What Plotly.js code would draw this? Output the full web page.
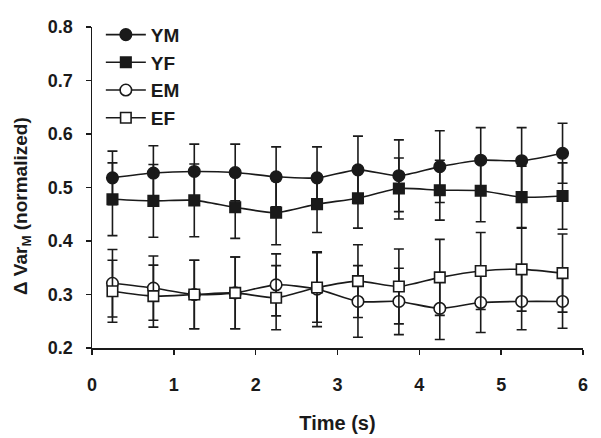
<!DOCTYPE html>
<html>
<head>
<meta charset="utf-8">
<script src="https://cdn.plot.ly/plotly-3.0.1.min.js"></script>
<style>html,body{margin:0;padding:0;background:#fff;}#chart{width:601px;height:438px;}</style>
</head>
<body>
<div id="chart"></div>
<script>
const time = [0.25, 0.75, 1.25, 1.75, 2.25, 2.75, 3.25, 3.75, 4.25, 4.75, 5.25, 5.75];
const YM = [0.518, 0.527, 0.530, 0.528, 0.520, 0.518, 0.533, 0.522, 0.539, 0.551, 0.550, 0.564];
const YM_err = [0.050, 0.051, 0.051, 0.053, 0.056, 0.058, 0.063, 0.067, 0.067, 0.061, 0.062, 0.056];
const YF = [0.478, 0.475, 0.476, 0.463, 0.453, 0.469, 0.480, 0.498, 0.495, 0.494, 0.482, 0.484];
const YF_err = [0.068, 0.068, 0.068, 0.058, 0.060, 0.053, 0.056, 0.057, 0.056, 0.058, 0.058, 0.062];
const EM = [0.321, 0.312, 0.300, 0.303, 0.318, 0.310, 0.287, 0.287, 0.274, 0.285, 0.287, 0.287];
const EM_err = [0.063, 0.060, 0.064, 0.067, 0.058, 0.070, 0.067, 0.062, 0.058, 0.056, 0.053, 0.050];
const EF = [0.306, 0.297, 0.300, 0.303, 0.294, 0.313, 0.325, 0.315, 0.332, 0.344, 0.347, 0.340];
const EF_err = [0.058, 0.058, 0.064, 0.067, 0.060, 0.065, 0.068, 0.070, 0.071, 0.072, 0.078, 0.073];
const seriesNames = ['YM', 'YF', 'EM', 'EF'];
const xTitle = 'Time (s)';
const yTitle = 'Δ Var<sub>M</sub> (normalized)';

function mk(name, y, err, symbol, fill) {
  return {
    x: time, y: y, name: name, type: 'scatter', mode: 'lines+markers',
    legendgroup: name,
    line: {color: '#1a1a1a', width: 1.6, shape: 'spline', smoothing: 0.7},
    marker: {symbol: symbol, size: symbol === 'circle' ? 11.5 : 10.5, color: fill, line: {color: '#1a1a1a', width: 1.6}},
    error_y: {type: 'data', array: err, visible: true, color: '#1a1a1a', thickness: 1.6, width: 5}
  };
}
const traces = [
  mk(seriesNames[0], YM, YM_err, 'circle', '#1a1a1a'),
  mk(seriesNames[1], YF, YF_err, 'square', '#1a1a1a'),
  mk(seriesNames[2], EM, EM_err, 'circle', '#ffffff'),
  mk(seriesNames[3], EF, EF_err, 'square', '#ffffff')
];
const fam = 'Liberation Sans, Arial, sans-serif';
const layout = {
  width: 601, height: 438,
  margin: {l: 92, r: 18, t: 27, b: 90},
  paper_bgcolor: '#fff', plot_bgcolor: '#fff',
  font: {family: fam, size: 18, color: '#1a1a1a', weight: 'bold'},
  showlegend: true,
  legend: {x: 0.018, y: 1.035, xanchor: 'left', yanchor: 'top', bgcolor: 'rgba(0,0,0,0)',
           font: {family: fam, size: 19, color: '#1a1a1a', weight: 'bold'},
           itemwidth: 40, tracegroupgap: 0},
  xaxis: {
    range: [0, 6], dtick: 1, tick0: 0, showgrid: false, zeroline: false,
    showline: true, linecolor: '#1a1a1a', linewidth: 1.5,
    ticks: 'outside', ticklen: 5, tickwidth: 1.5, tickcolor: '#1a1a1a',
    ticklabelstandoff: 15,
    tickfont: {family: fam, size: 18, color: '#1a1a1a', weight: 'bold'},
    title: {text: xTitle, font: {family: fam, size: 20, color: '#1a1a1a', weight: 'bold'}, standoff: 22}
  },
  yaxis: {
    range: [0.2, 0.8], dtick: 0.1, tick0: 0.2, tickformat: '.1f', showgrid: false, zeroline: false,
    showline: true, linecolor: '#1a1a1a', linewidth: 1.5,
    ticks: 'outside', ticklen: 5, tickwidth: 1.5, tickcolor: '#1a1a1a',
    ticklabelstandoff: 9,
    tickfont: {family: fam, size: 18, color: '#1a1a1a', weight: 'bold'}
  },
  annotations: [{
    text: yTitle, textangle: -90, showarrow: false,
    xref: 'paper', yref: 'paper', x: -0.1426, y: 0.442, xanchor: 'center', yanchor: 'middle',
    font: {family: fam, size: 19, color: '#1a1a1a', weight: 'bold'}
  }]
};
Plotly.newPlot('chart', traces, layout, {displayModeBar: false, staticPlot: true});
</script>
</body>
</html>
